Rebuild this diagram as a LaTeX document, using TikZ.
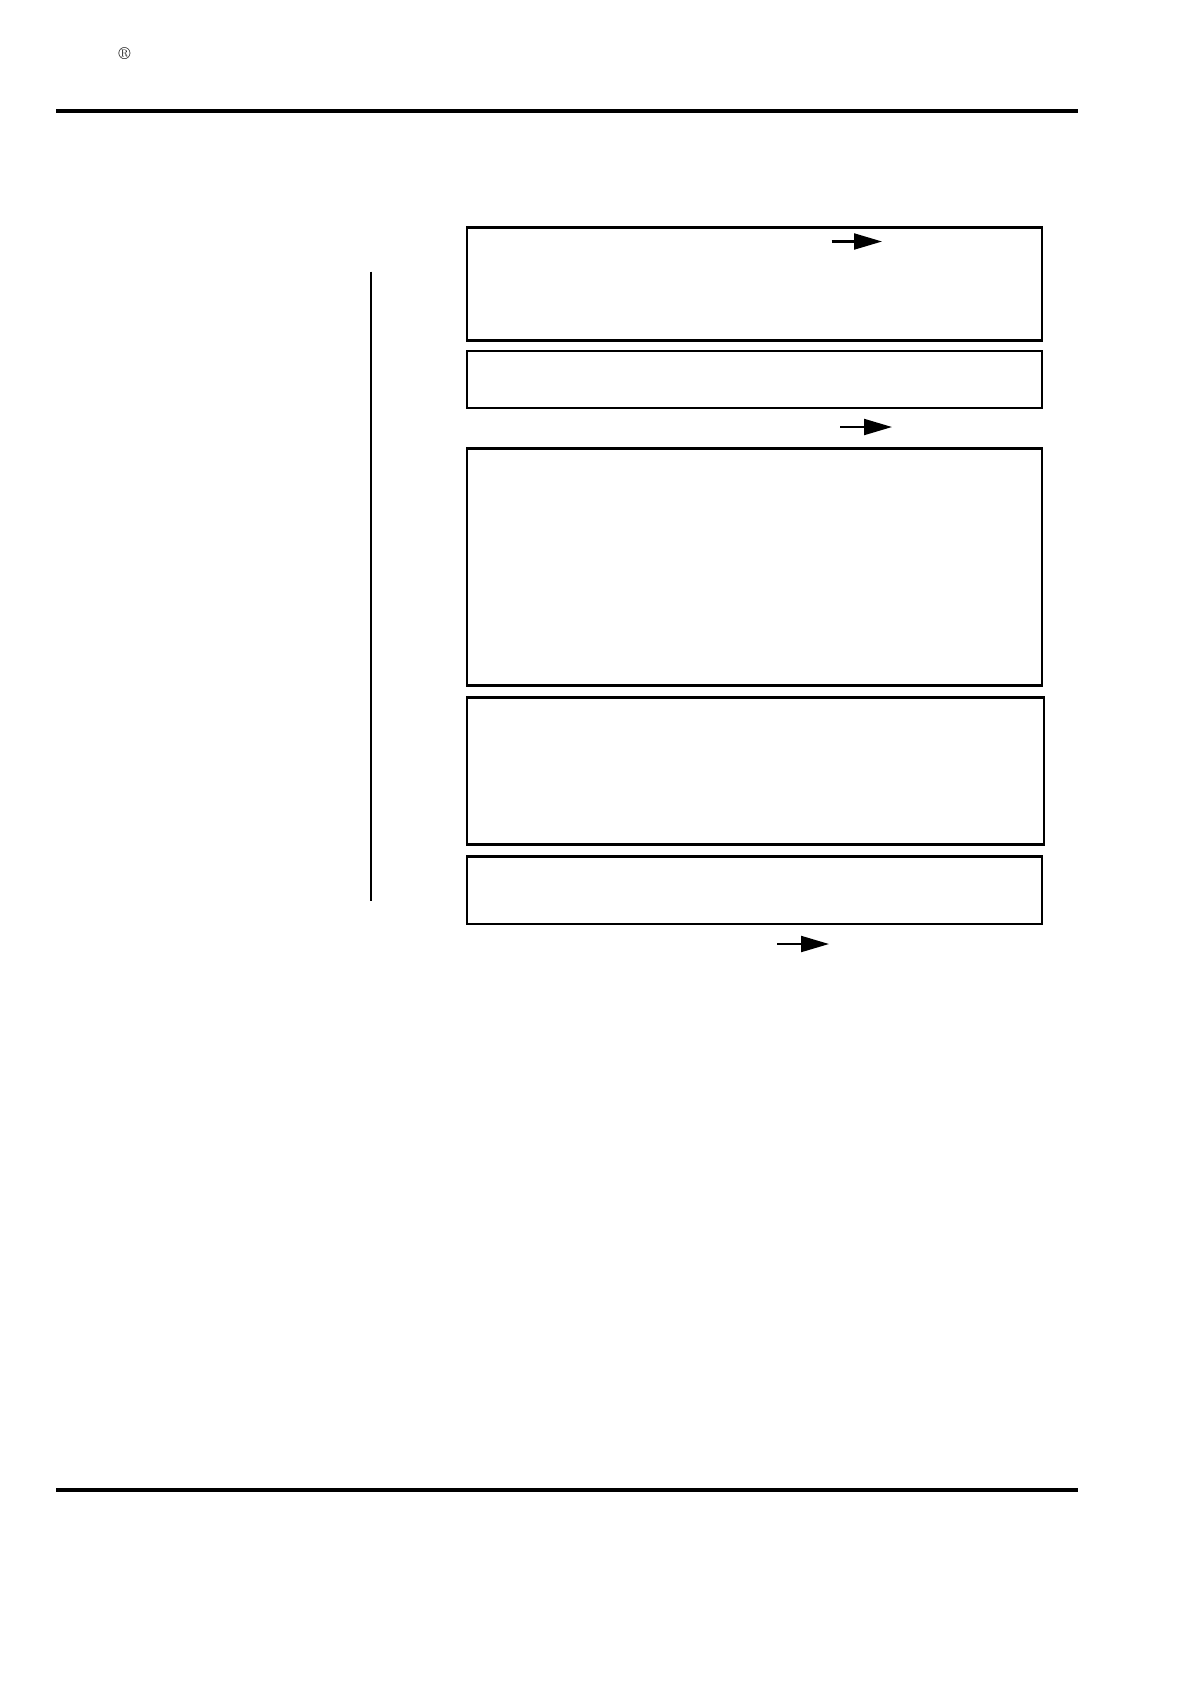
\documentclass[tikz,border=0pt]{standalone}
\usetikzlibrary{arrows.meta}
\begin{document}
\begin{tikzpicture}[x=0.75pt,y=-0.75pt,
  panel/.style={draw=black,line width=1.6pt,inner sep=0pt},
  rulebar/.style={line width=3pt,line cap=butt},
  pointer/.style={line width=1.6pt,-{Triangle[length=21pt,width=12pt]}},
  sideline/.style={line width=1.6pt}]
\useasboundingbox (0,0) rectangle (1190,1682);
\node[font=\fontsize{13}{15}\selectfont,inner sep=0pt] (reg) at (124.5,54) {\textregistered};
\coordinate (t1) at (56,111); \coordinate (t2) at (1078,111);
\draw[rulebar] (t1) -- (t2);
\coordinate (b1) at (56,1489.5); \coordinate (b2) at (1078,1489.5);
\draw[rulebar] (b1) -- (b2);
\coordinate (v1) at (371,271.5); \coordinate (v2) at (371,901);
\draw[sideline] (v1) -- (v2);
\path[panel] (467,227.5) rectangle (1042,340.5) node[midway] (box1) {};
\path[panel] (467,351) rectangle (1042,408) node[midway] (box2) {};
\path[panel] (467,448.5) rectangle (1042,685.5) node[midway] (box3) {};
\path[panel] (467,697.5) rectangle (1044,844.5) node[midway] (box4) {};
\path[panel] (467,856.5) rectangle (1042,924) node[midway] (box5) {};
\coordinate (a1s) at (831.5,241.5); \coordinate (a1e) at (882,241.5);
\draw[pointer] (a1s) -- (a1e);
\coordinate (a2s) at (840,427); \coordinate (a2e) at (892,427);
\draw[pointer] (a2s) -- (a2e);
\coordinate (a3s) at (777,944); \coordinate (a3e) at (829,944);
\draw[pointer] (a3s) -- (a3e);
\end{tikzpicture}
\end{document}
